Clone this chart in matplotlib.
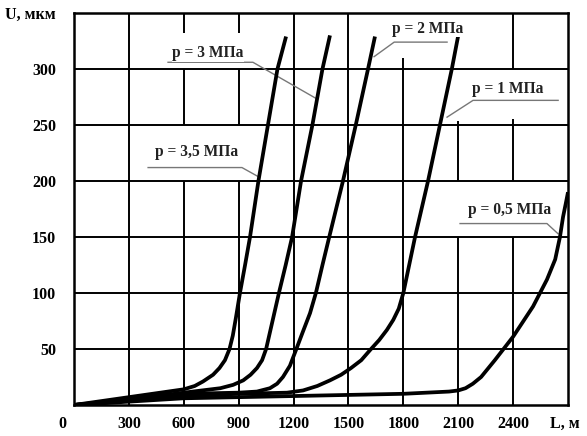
import matplotlib
matplotlib.use("Agg")
import matplotlib.pyplot as plt
import matplotlib.transforms as mtransforms

plt.rcParams['font.family'] = ['Liberation Serif', 'DejaVu Serif']
plt.rcParams['font.weight'] = 'bold'

# curve data, L in m, U in mkm
L_35 = [0, 300, 600, 660, 705, 760, 795, 825, 850, 868, 885, 907, 935, 962, 1008, 1060, 1112, 1159]
U_35 = [0, 7, 14, 17, 21, 27, 33, 40, 50, 62, 78, 100, 125, 150, 200, 250, 300, 329]

L_3 = [0, 300, 600, 800, 870, 925, 965, 1000, 1028, 1050, 1085, 1120, 1157, 1192, 1241, 1303, 1358, 1399]
U_3 = [0, 5, 11, 15, 18, 22, 27, 33, 40, 50, 75, 100, 125, 150, 200, 250, 300, 330]

L_2 = [0, 300, 600, 900, 1000, 1071, 1110, 1142, 1180, 1213, 1250, 1290, 1322, 1358, 1395, 1470, 1540, 1607, 1645]
U_2 = [0, 4, 10, 11, 12, 15, 19, 25, 35, 49, 65, 82, 100, 125, 150, 200, 250, 300, 329]

L_1 = [0, 300, 600, 900, 1164, 1252, 1330, 1399, 1460, 1514, 1570, 1618, 1668, 1710, 1745, 1775, 1800, 1832, 1864, 1935, 2000, 2065, 2099]
U_1 = [0, 4, 8, 10, 11, 13, 17, 22, 27, 33, 40, 49, 58, 67, 76, 86, 100, 125, 150, 200, 250, 300, 329]

L_05 = [0, 300, 600, 1200, 1800, 2050, 2100, 2140, 2180, 2225, 2300, 2400, 2509, 2585, 2630, 2656, 2673, 2688, 2700]
U_05 = [0, 3, 6, 8, 10, 12, 13, 15, 19, 25, 40, 61, 88, 112, 130, 150, 168, 180, 190]

x_ticks = [0, 300, 600, 900, 1200, 1500, 1800, 2100, 2400, 2700]
x_labels = ['0', '300', '600', '900', '1200', '1500', '1800', '2100', '2400', 'L, м']
y_ticks = [50, 100, 150, 200, 250, 300, 350]
y_labels = ['50', '100', '150', '200', '250', '300', 'U, мкм']

curve_names = ['p = 3,5 МПа', 'p = 3 МПа', 'p = 2 МПа', 'p = 1 МПа', 'p = 0,5 МПа']

fig = plt.figure(figsize=(5.87, 4.36), dpi=100)
ax = fig.add_axes([74 / 587, 31 / 436, 494 / 587, 392 / 436])
ax.set_xlim(0, 2700)
ax.set_ylim(0, 350)

# broken grid like in the scanned original
grid_lw = 1.4
for u in [50, 100, 150, 200, 250, 300]:
    ax.hlines(u, 0, 2700, color='black', lw=grid_lw, zorder=1)
vsegs = [(300, 0, 350),
         (600, 0, 200), (600, 250, 300), (600, 332, 350),
         (900, 0, 200), (900, 250, 300), (900, 332, 350),
         (1200, 0, 350), (1500, 0, 350), (1800, 0, 310),
         (2100, 0, 150), (2100, 200, 254),
         (2400, 0, 150), (2400, 200, 255), (2400, 300, 350)]
for x, y0, y1 in vsegs:
    ax.vlines(x, y0, y1, color='black', lw=grid_lw, zorder=1)

for L, U in [(L_35, U_35), (L_3, U_3), (L_2, U_2), (L_1, U_1), (L_05, U_05)]:
    ax.plot(L, U, color='black', lw=2.7, solid_capstyle='butt',
            solid_joinstyle='round', zorder=3)

# labels with leader lines
label_pos = [(672, 226), (732, 314), (1935, 336), (2372, 282), (2383, 174)]
leaders = [[(405, 212), (918, 212), (1006, 204)],
           [(514, 306), (978, 306), (1320, 274)],
           [(2039, 324), (1750, 324), (1640, 311)],
           [(2646, 272), (2181, 272), (2039, 257)],
           [(2110, 162), (2585, 162), (2645, 153)]]
for name, (tx, ty), pts in zip(curve_names, label_pos, leaders):
    ax.plot([p[0] for p in pts], [p[1] for p in pts], color='#777777', lw=1.0, zorder=2)
    ax.text(tx, ty, name, ha='center', va='center', fontsize=11.2,
            fontweight='bold', color='#222222', zorder=4,
            bbox=dict(facecolor='white', edgecolor='none', pad=0.5))

ax.set_xticks(x_ticks)
ax.set_xticklabels(x_labels, fontsize=11.5, fontweight='bold')
ax.set_yticks(y_ticks)
ax.set_yticklabels(y_labels, fontsize=11.5, fontweight='bold')
ax.tick_params(axis='x', length=0, pad=8)
ax.tick_params(axis='y', length=0, pad=13)

# the "0" label sits a bit left of the corner
lbl0 = ax.get_xticklabels()[0]
lbl0.set_transform(lbl0.get_transform() +
                   mtransforms.ScaledTranslation(-12 / 100, 0, fig.dpi_scale_trans))
# keep "L, м" inside the picture
lbl_end = ax.get_xticklabels()[-1]
lbl_end.set_transform(lbl_end.get_transform() +
                      mtransforms.ScaledTranslation(-3 / 100, 0, fig.dpi_scale_trans))

for s in ax.spines.values():
    s.set_linewidth(1.8)
    s.set_zorder(5)

fig.savefig('out.png', dpi=100)
